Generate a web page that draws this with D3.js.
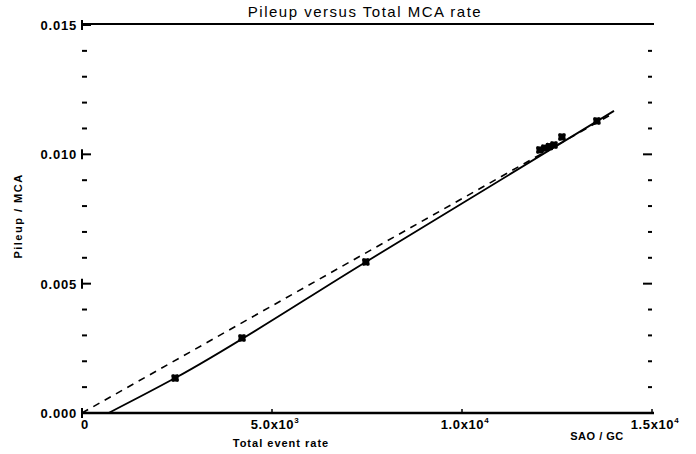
<!DOCTYPE html>
<html>
<head>
<meta charset="utf-8">
<script src="https://cdn.jsdelivr.net/npm/d3@7"></script>
<style>
  body { margin: 0; background: #fff; }
  text { font-family: "Liberation Sans", Arial, sans-serif; fill: #000; }
</style>
</head>
<body>
<script>
// measured points (rate, pileup fraction)
var rates   = [2450, 4210, 7470, 12050, 12180, 12300, 12420, 12630, 13550];
var pileups = [0.00135, 0.00290, 0.00584, 0.01017, 0.01024, 0.01030, 0.01036, 0.01067, 0.01129];

// solid fit curve and dashed reference line
var fitX  = [700, 2450, 7470, 14000];
var fitY  = [0, 0.00135, 0.00584, 0.01168];
var refX  = [0, 14000];
var refY  = [0, 0.01160];

var xTicks = [0, 5000, 10000, 15000];
var xTickLabels = [["0", ""], ["5.0x10", "3"], ["1.0x10", "4"], ["1.5x10", "4"]];
var yTicks = [0, 0.005, 0.010, 0.015];
var yTickLabels = ["0.000", "0.005", "0.010", "0.015"];
var yMinor = [0.001, 0.002, 0.003, 0.004, 0.006, 0.007, 0.008, 0.009, 0.011, 0.012, 0.013, 0.014];

var W = 696, H = 454;
var plotL = 82, plotR = 652, plotT = 25, plotB = 413;

function drawChart() {
	var svg = d3.select('body').append('svg')
		.attr('width', W)
		.attr('height', H);

	var x = d3.scaleLinear().domain([0, 15000]).range([plotL, plotR]);
	var y = d3.scaleLinear().domain([0, 0.015]).range([plotB, plotT]);

	// frame: only top and bottom lines survive in the scan
	svg.append("line")
		.attr("x1", plotL).attr("x2", plotR + 2)
		.attr("y1", plotT - 1).attr("y2", plotT - 1)
		.attr("stroke", "#000").attr("stroke-width", 2);
	svg.append("line")
		.attr("x1", plotL).attr("x2", plotR + 2)
		.attr("y1", plotB).attr("y2", plotB)
		.attr("stroke", "#000").attr("stroke-width", 2.5);

	// left axis: ticks only
	var gl = svg.append("g").attr("transform", "translate(" + plotL + ",0)");
	gl.selectAll("line.major").data(yTicks).enter().append("line")
		.attr("x1", 0).attr("x2", 9)
		.attr("y1", function(d) { return y(d); })
		.attr("y2", function(d) { return y(d); })
		.attr("stroke", "#000").attr("stroke-width", 2);
	gl.selectAll("line.bar").data(yTicks).enter().append("line")
		.attr("x1", 0).attr("x2", 0)
		.attr("y1", function(d) { return y(d) - 5; })
		.attr("y2", function(d) { return y(d) + 5; })
		.attr("stroke", "#000").attr("stroke-width", 2);
	gl.selectAll("line.minor").data(yMinor).enter().append("line")
		.attr("x1", 0).attr("x2", 5)
		.attr("y1", function(d) { return y(d); })
		.attr("y2", function(d) { return y(d); })
		.attr("stroke", "#000").attr("stroke-width", 2);
	gl.selectAll("text").data(yTicks).enter().append("text")
		.attr("x", -5)
		.attr("y", function(d) { return y(d) + 5; })
		.attr("text-anchor", "end")
		.style("font-size", "13px")
		.style("letter-spacing", "0.8px")
		.style("font-weight", "bold")
		.text(function(d, i) { return yTickLabels[i]; });

	// right axis: ticks only, pointing in
	var gr = svg.append("g").attr("transform", "translate(" + plotR + ",0)");
	gr.selectAll("line.major").data(yTicks.slice(1, 3)).enter().append("line")
		.attr("x1", -9).attr("x2", 0)
		.attr("y1", function(d) { return y(d); })
		.attr("y2", function(d) { return y(d); })
		.attr("stroke", "#000").attr("stroke-width", 2);
	gr.selectAll("line.minor").data(yMinor).enter().append("line")
		.attr("x1", -4).attr("x2", 0)
		.attr("y1", function(d) { return y(d); })
		.attr("y2", function(d) { return y(d); })
		.attr("stroke", "#000").attr("stroke-width", 2);

	// bottom axis ticks + labels
	var gb = svg.append("g");
	gb.selectAll("line").data(xTicks).enter().append("line")
		.attr("x1", function(d) { return x(d); })
		.attr("x2", function(d) { return x(d); })
		.attr("y1", plotB - 4).attr("y2", plotB)
		.attr("stroke", "#000").attr("stroke-width", 1.5);
	var xl = gb.selectAll("text").data(xTicks).enter().append("text")
		.attr("x", function(d) { return x(d) + 3; })
		.attr("y", plotB + 16)
		.attr("text-anchor", "middle")
		.style("font-size", "13px")
		.style("letter-spacing", "0.6px")
		.style("font-weight", "bold");
	xl.append("tspan").text(function(d, i) { return xTickLabels[i][0]; });
	xl.append("tspan")
		.attr("dy", -6)
		.style("font-size", "8px")
		.text(function(d, i) { return xTickLabels[i][1]; });

	// lines
	var line = d3.line()
		.curve(d3.curveMonotoneX)
		.x(function(d) { return x(d[0]); })
		.y(function(d) { return y(d[1]); });

	svg.append("path")
		.datum(refX.map(function(v, i) { return [v, refY[i]]; }))
		.attr("d", line)
		.attr("fill", "none")
		.attr("stroke", "#000")
		.attr("stroke-width", 1.6)
		.attr("stroke-dasharray", "7,6");

	svg.append("path")
		.datum(fitX.map(function(v, i) { return [v, fitY[i]]; }))
		.attr("d", line)
		.attr("fill", "none")
		.attr("stroke", "#000")
		.attr("stroke-width", 1.8);

	// markers: filled square with a small star
	svg.selectAll("rect.pt").data(rates).enter().append("rect")
		.attr("class", "pt")
		.attr("x", function(d) { return x(d) - 3.5; })
		.attr("y", function(d, i) { return y(pileups[i]) - 3.5; })
		.attr("width", 7).attr("height", 7)
		.attr("fill", "#000");
	svg.selectAll("path.star").data(rates).enter().append("path")
		.attr("class", "star")
		.attr("d", d3.symbol().type(d3.symbolCross).size(40))
		.attr("transform", function(d, i) { return "translate(" + x(d) + "," + y(pileups[i]) + ") rotate(45)"; })
		.attr("fill", "#000");

	// titles
	svg.append("text")
		.attr("x", (plotL + plotR) / 2 - 2)
		.attr("y", 17)
		.attr("text-anchor", "middle")
		.style("font-size", "15px")
		.style("letter-spacing", "1.5px")
		.text("Pileup versus Total MCA rate");

	svg.append("text")
		.attr("x", 281)
		.attr("y", 447)
		.attr("text-anchor", "middle")
		.style("font-size", "11px")
		.style("letter-spacing", "1px")
		.style("font-weight", "bold")
		.text("Total event rate");

	svg.append("text")
		.attr("x", 597)
		.attr("y", 440)
		.attr("text-anchor", "middle")
		.style("font-size", "11px")
		.style("letter-spacing", "0.5px")
		.style("font-weight", "bold")
		.text("SAO / GC");

	svg.append("text")
		.attr("transform", "translate(22,216) rotate(-90)")
		.attr("text-anchor", "middle")
		.style("font-size", "11px")
		.style("letter-spacing", "1.5px")
		.style("font-weight", "bold")
		.text("Pileup / MCA");
}

drawChart();
</script>
</body>
</html>
